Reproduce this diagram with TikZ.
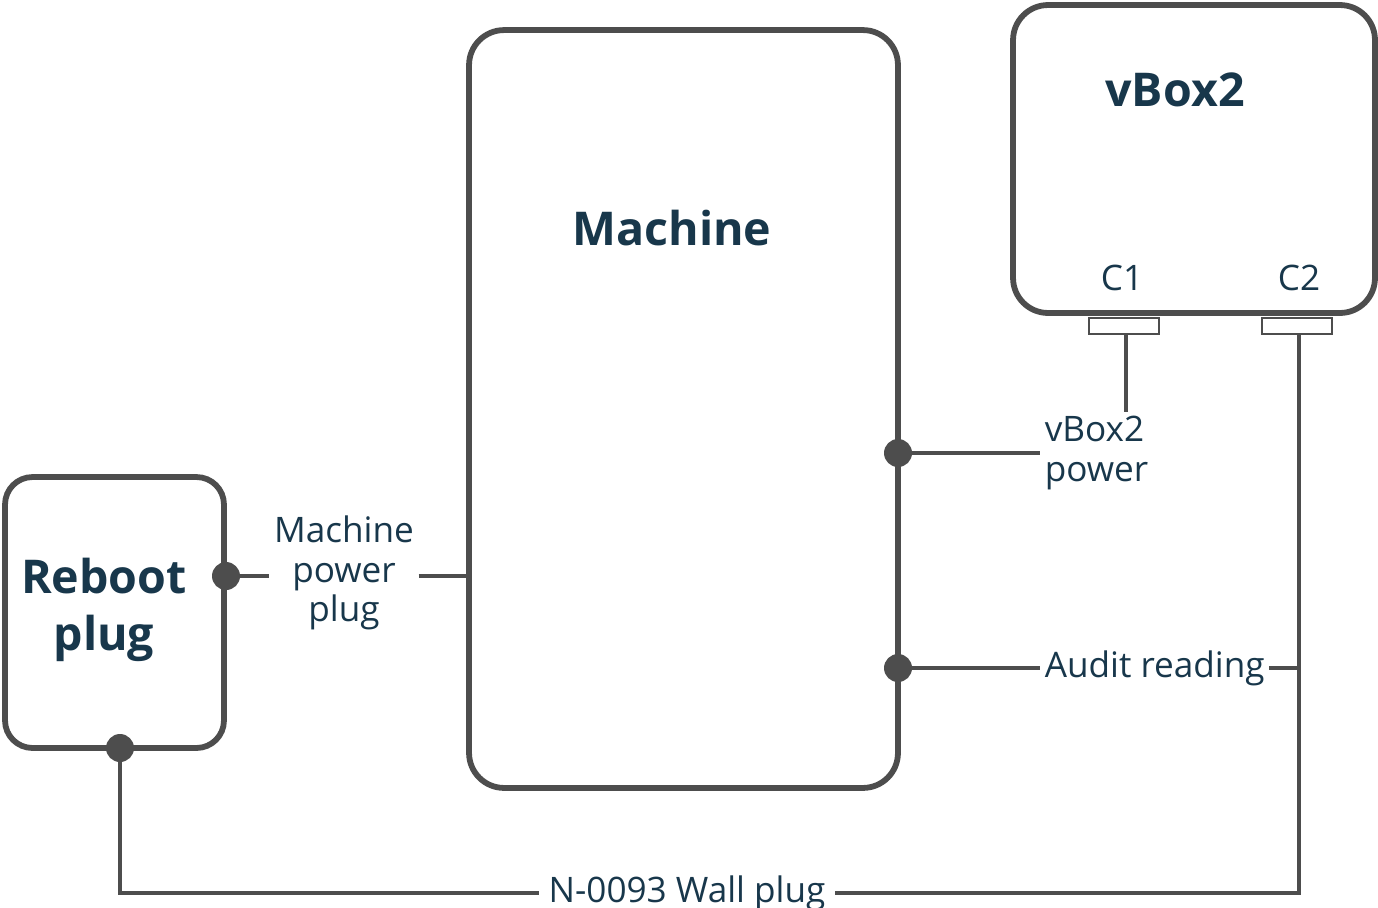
\documentclass[tikz,border=0pt]{standalone}
\usepackage{fontspec}
\setmainfont{Open Sans}
\usepackage{xcolor}
\usepackage{tikz}
\usetikzlibrary{positioning}
\definecolor{wiregray}{RGB}{77,77,77}
\definecolor{ink}{RGB}{24,55,75}

\begin{document}
\begin{tikzpicture}[x=0.02cm,y=-0.02cm,
  unit/.style={draw=wiregray,line width=3.3pt,rounded corners=0.55cm,inner sep=0pt},
  title/.style={text=ink,font=\fontsize{26.5}{32.5}\selectfont\bfseries,align=center},
  lbl/.style={text=ink,font=\fontsize{20}{22.5}\selectfont,inner sep=2.5pt},
  port/.style={draw=wiregray,line width=1.1pt,fill=white,minimum width=1.4cm,minimum height=0.32cm,inner sep=0pt},
  dot/.style={circle,fill=wiregray,minimum size=0.56cm,inner sep=0pt},
  cable/.style={draw=wiregray,line width=2.8pt}]
\useasboundingbox (0,0) rectangle (1378,907);

\node at (114.5,612.5) [unit,minimum width=4.38cm,minimum height=5.42cm] (reboot) {};
\node at (683.5,409) [unit,minimum width=8.58cm,minimum height=15.16cm,rounded corners=0.7cm] (machine) {};
\node at (1194,159) [unit,minimum width=7.24cm,minimum height=6.16cm,rounded corners=0.7cm] (vbox) {};

\node at (104,610) [title] (reboottitle) {Reboot\\plug};
\node at (672,228) [title] (machinetitle) {Machine};
\node at (1175,90) [title] (vboxtitle) {vBox2};

\node at (1122,278) [lbl] (c1lbl) {C1};
\node at (1299,278) [lbl] (c2lbl) {C2};

\node at (344,573) [lbl,align=center] (mpplug) {Machine\\power\\plug};
\node at (1040,453) [lbl,anchor=west,align=left] (vpower) {vBox2\\power};
\node at (1040,668) [lbl,anchor=west] (audit) {Audit reading};
\node at (687,893) [lbl,inner sep=5pt] (wall) {N-0093 Wall plug};

\draw [cable] (1126,326) -- (1126,326 |- vpower.north);
\draw [cable] (1299,326) |- (wall.east);
\node at (1124,326) [port] (c1) {};
\node at (1297,326) [port] (c2) {};

\node at (226,576) [dot] (rbout) {};
\node at (120,748) [dot] (rbin) {};
\node at (898,453) [dot] (mvpow) {};
\node at (898,668) [dot] (maudit) {};

\draw [cable] (rbout) -- (rbout -| mpplug.west);
\draw [cable] (mpplug.east |- rbout) -- (rbout -| machine.west);
\draw [cable] (mvpow) -- (vpower.west);
\draw [cable] (maudit) -- (audit.west);
\draw [cable] (audit.east) -- (audit.east -| 1299,0);
\draw [cable] (rbin) |- (wall.west);

\end{tikzpicture}
\end{document}
